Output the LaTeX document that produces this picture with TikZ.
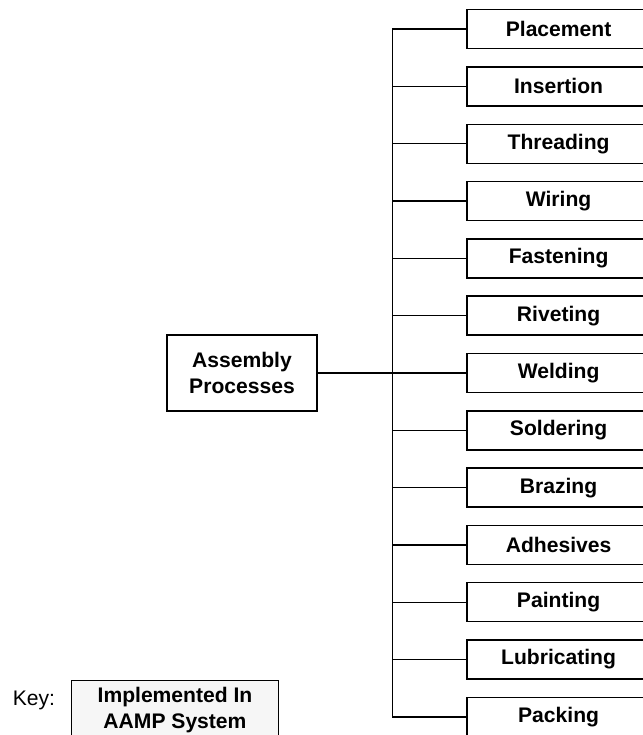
\documentclass[tikz,border=0pt]{standalone}
\usepackage{fontspec}
\setmainfont{Liberation Sans}
\tikzset{
  x=0.025cm, y=-0.025cm,
  treenode/.style = {align=center, inner sep=0pt, text centered, font=\bfseries\fontsize{15}{19}\selectfont},
  proc_root/.style = {treenode, rectangle, draw=black, line width=1pt, minimum width=3.75cm, minimum height=1.9cm},
  proc_n/.style = {treenode, rectangle, draw=black, line width=1pt, minimum width=4.575cm, minimum height=0.975cm},
  key_n/.style = {treenode, rectangle, draw=black, fill=gray!7, line width=0.7pt, minimum width=5.15cm, minimum height=1.5cm},
  key_l/.style = {inner sep=0pt, font=\fontsize{15}{17}\selectfont}
}

\begin{document}
\begin{tikzpicture}[grow'=right, level distance=7.9125cm, sibling distance=1.4325cm,
  edge from parent/.style={draw, line width=1pt},
  edge from parent path={(\tikzparentnode.east) -- ++(75,0) |- (\tikzchildnode.west)}]
\useasboundingbox (0,0) rectangle (643,735);
\node [proc_root] (root) at (242,373) {Assembly\\Processes}
	child{ node [proc_n] {Placement}}
	child{ node [proc_n] {Insertion}}
	child{ node [proc_n] {Threading}}
	child{ node [proc_n] {Wiring}}
	child{ node [proc_n] {Fastening}}
	child{ node [proc_n] {Riveting}}
	child{ node [proc_n] {Welding}}
	child{ node [proc_n] {Soldering}}
	child{ node [proc_n] {Brazing}}
	child{ node [proc_n] {Adhesives}}
	child{ node [proc_n] {Painting}}
	child{ node [proc_n] {Lubricating}}
	child{ node [proc_n] {Packing}};
% key
\node [key_n] (key) at (175,710) {Implemented In\\AAMP System};
\node [key_l] (keylabel) at (34,700) {Key:};
\end{tikzpicture}
\end{document}
